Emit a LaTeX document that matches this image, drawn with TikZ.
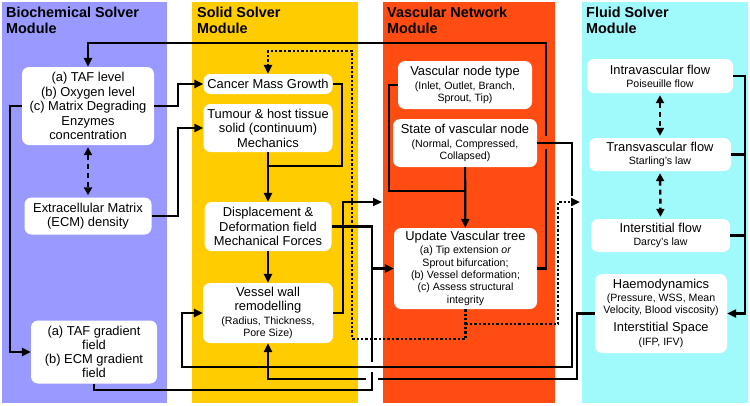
\documentclass[tikz,border=0pt]{standalone}
\usepackage{fontspec}
\setmainfont{Liberation Sans}
\usetikzlibrary{arrows.meta}
\definecolor{biocol}{RGB}{153,153,255}
\definecolor{solidcol}{RGB}{255,204,0}
\definecolor{vasccol}{RGB}{255,76,18}
\definecolor{fluidcol}{RGB}{160,250,252}
\newcommand{\maintext}{\fontsize{12.9}{14.6}\selectfont}
\newcommand{\smalltext}{\fontsize{10.6}{14.6}\selectfont}

\begin{document}
\begin{tikzpicture}[x=1pt, y=-1pt,
      box/.style={fill=white, rounded corners=7pt, align=center, inner sep=0pt, font=\maintext},
      title/.style={anchor=north west, align=left, inner sep=0pt, font=\bfseries\fontsize{14.4}{16}\selectfont},
      link/.style={line width=2.2pt, -{Triangle[length=9pt,width=8pt]}},
      plain/.style={line width=2.2pt},
      dots/.style={line width=2.4pt, dash pattern=on 2.4pt off 2pt, -{Triangle[length=9pt,width=8pt]}},
      twoway/.style={line width=2.4pt, dash pattern=on 5pt off 4pt, shorten <=2pt, shorten >=2pt,
                     {Triangle[length=8pt,width=8pt]}-{Triangle[length=8pt,width=8pt]}}]
            \useasboundingbox (0,0) rectangle (750,405);
% module panels
            \fill[biocol] (2,2) rectangle (167,403);
            \fill[solidcol] (192,2) rectangle (358,403);
            \fill[vasccol] (383,2) rectangle (555,403);
            \fill[fluidcol] (582,2) rectangle (748,403);
            \node[title] (tbio) at (6,7) {Biochemical Solver\\Module};
            \node[title] (tsolid) at (197,7) {Solid Solver\\Module};
            \node[title] (tvasc) at (387,7) {Vascular Network\\Module};
            \node[title] (tfluid) at (586,7) {Fluid Solver\\Module};
% biochemical solver
            \node[box, minimum width=132pt, minimum height=78pt] (taf) at (88,106) {(a) TAF level\\(b) Oxygen level\\(c) Matrix Degrading\\Enzymes\\concentration};
            \node[box, minimum width=127pt, minimum height=37pt] (ecm) at (88,216) {Extracellular Matrix\\(ECM) density};
            \node[box, minimum width=126pt, minimum height=63pt] (grad) at (94,352) {(a) TAF gradient\\[-0.6pt]field\\[-0.6pt](b) ECM gradient\\[-0.6pt]field};
% solid solver
            \node[box, minimum width=129pt, minimum height=20pt] (growth) at (268,84) {Cancer Mass Growth};
            \node[box, minimum width=129pt, minimum height=48pt] (mech) at (268,128) {Tumour \& host tissue\\solid (continuum)\\Mechanics};
            \node[box, minimum width=127pt, minimum height=49pt] (disp) at (268,226.5) {Displacement \&\\Deformation field\\Mechanical Forces};
            \node[box, minimum width=130pt, minimum height=60pt] (wall) at (268,313) {Vessel wall\\[-0.6pt]remodelling\\[-0.6pt]\smalltext (Radius, Thickness,\\[-2.3pt]\smalltext Pore Size)};
% vascular network
            \node[box, minimum width=134pt, minimum height=48pt] (ntype) at (465,85) {Vascular node type\\[-0.6pt]\smalltext (Inlet, Outlet, Branch,\\[-2.3pt]\smalltext Sprout, Tip)};
            \node[box, minimum width=144pt, minimum height=48pt] (nstate) at (465,143) {State of vascular node\\[-0.6pt]\smalltext (Normal, Compressed,\\[-2.6pt]\smalltext Collapsed)};
            \node[box, minimum width=143pt, minimum height=81pt] (update) at (465.5,268.5) {Update Vascular tree\\[-1.6pt]\smalltext (a) Tip extension \emph{or}\\[-2.3pt]\smalltext Sprout bifurcation;\\[-2.3pt]\smalltext (b) Vessel deformation;\\[-2.3pt]\smalltext (c) Assess structural\\[-2.3pt]\smalltext integrity};
% fluid solver
            \node[box, minimum width=146pt, minimum height=34pt] (intra) at (660,76) {Intravascular flow\\[-1.6pt]\smalltext Poiseuille flow};
            \node[box, minimum width=142pt, minimum height=33pt] (trans) at (660,154.5) {Transvascular flow\\[-1.6pt]\smalltext Starling's law};
            \node[box, minimum width=139pt, minimum height=33pt] (inter) at (660.5,235.5) {Interstitial flow\\[-1.6pt]\smalltext Darcy's law};
            \node[box, minimum width=132pt, minimum height=79pt] (haemo) at (661,313.5) {Haemodynamics\\[-2pt]\smalltext (Pressure, WSS, Mean\\[-2.2pt]\smalltext Velocity, Blood viscosity)\\[3pt]\maintext Interstitial Space\\[-0.6pt]\smalltext (IFP, IFV)};
% links inside the modules
            \draw[link] (taf.west) -- (10,106) |- (grad.west);
            \draw[link] (taf.east) -- (178,106) |- (growth.west);
            \draw[link] (ecm.east) -| (178,128) -- (mech.west);
            \draw[twoway] (taf.south) -- (ecm.north);
            \coordinate (mj) at (268,166);
            \draw[plain] (growth.east) -| (342,166) -- (mj);
            \draw[link] (mech) -- (disp);
            \draw[link] (disp) -- (wall);
            \coordinate (vascin) at (382,202);
            \draw[link] (wall.east) -| (343,202) -- (vascin);
            \draw[plain] (ntype.west) -- (389,85) |- (465,191);
            \draw[link] (nstate) -- (update);
            \draw[link] (intra.east) -| (745,313.5) -- (haemo.east);
            \draw[plain] (trans.east) -- (745,154.5);
            \draw[plain] (inter.east) -- (745,235.5);
            \draw[twoway] (intra.south) -- (trans.north);
            \draw[twoway] (trans.south) -- (inter.north);
% links between the modules
            \draw[link] (update.east) -- (546,268.5) |- (88,43) -- (taf.north);
            \draw[link] (haemo.west) -- (577,313.5) |- (268,379) -- (wall.south);
            \fill[white] (366,376) rectangle (378,382);
            \draw[link] (disp.east) -| (372,268.5) -- (update.west);
            \draw[plain] (grad.south) -- (94,390) -| (372,268.5);
            \fill[white] (368,362) rectangle (376,372);
            \fill[vasccol] (542,136) rectangle (550,149);
            \draw[link] (nstate.east) -| (572,367) -| (182,313) -- (wall.west);
            \fill[white] (568,196) rectangle (576,208);
% dotted feedback
            \coordinate (dj) at (465.5,324);
            \coordinate (fluidin) at (580,202);
            \draw[dots] (update.south) -- (465.5,339) -| (352,51) -| (growth.north);
            \draw[dots] (dj) -| (558,202) -- (fluidin);
\end{tikzpicture}
\end{document}
